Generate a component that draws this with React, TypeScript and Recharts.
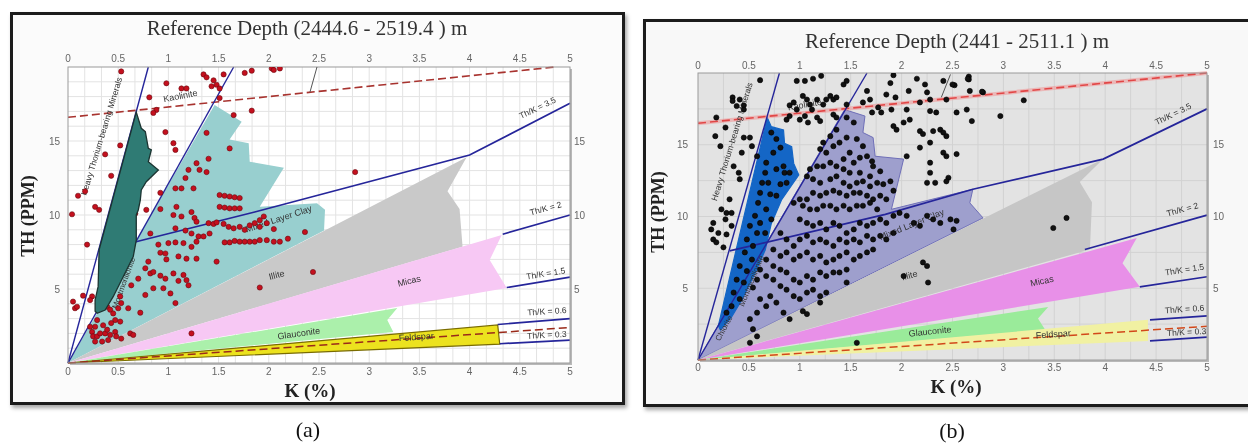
import React from 'react';
import { ScatterChart, Scatter, XAxis, YAxis, ReferenceArea } from 'recharts';

type P = [number, number];
const K_MAX = 5;
const TH_MAX = 20;
const kTicks = [0, 0.5, 1, 1.5, 2, 2.5, 3, 3.5, 4, 4.5, 5];
const thTicks = [5, 10, 15];

// ---------------- Panel (a) ----------------
const titleA = 'Reference Depth (2444.6 - 2519.4 ) m';
const heavyA: P[] = [[0.68,16.95],[0.73,15.86],[0.77,15.63],[0.8,14.5],[0.83,14.4],[0.8,13.6],[0.9,13.04],[0.78,12.25],[0.73,11.7],[0.72,11.0],[0.7,10.34],[0.68,10.0],[0.68,8.3],[0.65,7.2],[0.55,5.83],[0.45,4.48],[0.37,3.58],[0.29,3.36],[0.27,3.5],[0.27,4.26],[0.3,5.16],[0.31,7.64]];
const mixedA: P[] = [[0,0],[0.29,3.36],[0.37,3.58],[0.45,4.48],[0.55,5.83],[0.65,7.2],[0.68,8.3],[1.46,17.43],[1.73,16.3],[1.61,15.1],[1.8,14.85],[1.81,13.6],[2.15,13.2],[1.91,10.55],[2.48,10.8],[2.56,10.35],[2.55,8.95]];
const illiteA: P[] = [[0,0],[3.97,13.9],[3.78,11.6],[3.9,10.4],[3.93,7.86]];
const micasA: P[] = [[0,0],[4.32,8.65],[4.2,6.96],[4.37,5.07]];
const glaucA: P[] = [[0,0],[3.28,3.72],[3.18,2.9],[3.24,2.1]];
const feldA: P[] = [[0,0],[4.28,2.57],[4.3,1.28]];
const steepA: P[] = [[0,0],[0.8,20]];
const twelveA: P[] = [[0,0],[1.65,20]];
const thk35A: P[] = [[0.3,7.55],[1.86,10.2],[4.0,14.05],[5,17.55]];
const thk2A: P[] = [[4.33,8.7],[5,10.0]];
const thk15A: P[] = [[4.37,5.1],[5,5.8]];
const thk06A: P[] = [[4.28,2.6],[5,3.0]];
const thk03A: P[] = [[4.3,1.3],[5,1.55]];
const redTopA: P[] = [[0,16.6],[4.85,20]];
const redBotA: P[] = [[0,0],[5,2.4]];
const pointerA: P[] = [[2.48,20],[2.41,18.3]];
const wellA: P[] = [[0.53,19.7],[1.35,19.5],[1.38,19.3],[1.45,19.1],[1.55,19.5],[1.48,18.8],[1.51,18.55],[1.43,18.7],[1.76,19.6],[1.83,19.75],[2.03,19.9],[2.11,19.9],[2.05,19.8],[0.98,18.9],[1.13,18.55],[1.18,18.55],[0.81,17.95],[0.88,17.1],[0.85,16.9],[1.51,17.9],[1.65,16.75],[1.83,17.05],[0.97,15.6],[1.05,14.85],[1.07,14.4],[0.52,14.7],[0.37,14.1],[0.43,12.65],[0.6,12.8],[0.78,12.5],[0.92,11.5],[1.38,15.55],[1.61,14.5],[1.4,13.8],[1.28,13.5],[1.2,13.05],[1.31,13.05],[1.38,12.9],[1.17,12.5],[1.13,11.8],[1.07,11.8],[1.25,11.8],[0.1,11.3],[0.17,11.6],[0.27,10.55],[0.31,10.35],[0.04,10.05],[0.19,8.0],[0.45,10.55],[0.53,10.55],[0.5,9.8],[0.47,9.0],[0.53,9.1],[0.67,10.1],[0.65,9.45],[0.78,10.35],[0.92,10.4],[1.08,10.55],[1.05,10.0],[1.13,9.9],[1.23,10.2],[1.26,9.8],[1.28,9.55],[1.51,11.35],[1.56,11.3],[1.61,11.25],[1.66,11.2],[1.71,11.15],[1.51,10.55],[1.56,10.5],[1.61,10.45],[1.66,10.45],[1.71,10.45],[1.4,9.45],[1.45,9.4],[1.48,9.5],[1.55,9.4],[1.6,9.2],[1.65,9.1],[1.71,9.2],[1.76,9.0],[1.81,9.3],[1.86,9.45],[1.91,9.65],[1.95,9.9],[1.98,9.45],[1.91,9.2],[2.05,9.05],[2.36,8.85],[2.19,8.4],[2.11,8.2],[2.05,8.2],[1.98,8.3],[1.91,8.3],[1.86,8.2],[1.81,8.2],[1.76,8.2],[1.71,8.2],[1.66,8.25],[1.61,8.15],[1.56,8.15],[1.07,9.1],[1.17,8.95],[1.23,8.75],[1.3,8.55],[1.35,8.55],[1.41,8.75],[0.82,8.75],[0.9,8.0],[1.0,8.1],[1.07,8.15],[1.15,8.1],[1.23,7.85],[1.28,8.2],[0.92,7.45],[0.97,7.4],[0.98,7.0],[1.1,7.2],[1.18,7.05],[1.28,7.05],[1.48,6.85],[0.8,6.85],[0.77,6.4],[0.82,6.05],[0.85,6.15],[0.92,5.9],[0.97,5.7],[1.05,6.05],[1.15,5.95],[1.18,5.6],[1.2,5.25],[1.1,5.55],[0.95,5.05],[1.02,4.7],[0.85,5.05],[0.7,5.7],[0.63,5.25],[0.77,4.6],[0.52,4.5],[0.53,4.05],[0.6,3.7],[0.72,3.4],[1.07,4.05],[1.91,5.1],[2.44,6.15],[1.23,2.0],[0.05,4.15],[0.07,3.7],[0.15,4.55],[0.24,4.5],[0.22,4.25],[0.09,3.8],[0.39,3.8],[0.42,3.6],[0.45,3.35],[0.5,3.7],[0.47,2.9],[0.52,2.8],[0.43,2.7],[0.35,2.55],[0.29,2.9],[0.27,2.45],[0.24,2.1],[0.25,1.8],[0.29,1.8],[0.32,2.0],[0.37,2.0],[0.42,1.9],[0.47,2.1],[0.48,1.8],[0.53,1.65],[0.4,1.55],[0.62,2.0],[0.65,1.9],[0.34,1.45],[0.27,1.45],[0.39,2.25],[0.22,2.45],[0.45,6.15],[0.35,6.75],[0.43,7.4],[2.86,12.9]];

// ---------------- Panel (b) ----------------
const titleB = 'Reference Depth (2441 - 2511.1 ) m';
const heavyB: P[] = [[0.68,16.9],[0.72,16.26],[0.84,16.03],[0.85,15.1],[0.92,14.87],[0.94,13.7],[0.99,12.9],[0.82,11.15],[0.72,9.5],[0.66,7.67],[0.56,6.04],[0.43,4.18],[0.33,3.0],[0.22,2.1],[0.2,2.4]];
const mixedB: P[] = [[0,0],[1.44,17.45],[1.64,17.0],[1.62,15.85],[1.72,15.5],[1.74,14.2],[2.02,14.0],[1.9,10.5],[2.7,11.9],[2.67,10.95],[2.8,9.9]];
const illiteB: P[] = [[0,0],[3.98,14.0],[3.75,12.4],[3.87,11.0],[3.85,7.7]];
const micasB: P[] = [[0,0],[4.31,8.5],[4.17,6.75],[4.34,5.1]];
const glaucB: P[] = [[0,0],[3.44,3.7],[3.34,2.9],[3.41,2.1]];
const feldB: P[] = [[0,0],[4.42,2.8],[4.42,1.32]];
const steepB: P[] = [[0,0],[0.8,20]];
const twelveB: P[] = [[0,0],[1.66,20]];
const thk35B: P[] = [[0.31,7.6],[1.84,10.15],[2.7,11.9],[3.98,14.0],[5,17.5]];
const thk2B: P[] = [[3.8,7.7],[5,10.1]];
const thk15B: P[] = [[4.34,5.1],[5,5.8]];
const thk06B: P[] = [[4.44,2.8],[5,3.07]];
const thk03B: P[] = [[4.44,1.33],[5,1.6]];
const redTopB: P[] = [[0,16.5],[5,20]];
const redBotB: P[] = [[0,0],[5,2.35]];
const pointerB: P[] = [[2.48,19.9],[2.39,18.3]];
const wellB: P[] = [[0.61,19.5],[0.97,19.45],[1.05,19.45],[1.13,19.6],[1.21,19.8],[1.43,19.2],[1.46,19.45],[1.66,18.75],[1.89,19.3],[1.92,19.85],[2.07,18.75],[2.15,19.6],[2.23,19.2],[2.25,18.65],[2.28,18.15],[2.41,19.45],[2.52,19.15],[2.66,19.75],[2.66,19.55],[2.67,18.75],[2.8,18.65],[2.97,17.0],[0.34,18.3],[0.34,18.05],[0.41,18.15],[0.45,17.75],[0.45,17.45],[0.38,17.7],[0.9,17.75],[0.94,17.95],[0.97,17.45],[1.03,18.4],[1.07,18.15],[1.1,17.8],[1.12,17.45],[1.17,18.15],[1.23,17.8],[1.26,18.15],[1.3,18.4],[1.33,18.15],[1.36,18.3],[1.33,17.1],[1.46,17.8],[1.62,17.95],[1.69,18.15],[1.71,17.25],[1.77,17.6],[1.8,17.25],[1.85,18.5],[1.9,17.45],[1.94,18.3],[2.05,17.45],[2.08,16.75],[2.18,17.95],[2.28,17.35],[2.34,17.25],[2.44,18.15],[2.54,17.25],[2.64,17.45],[2.69,16.65],[0.18,16.9],[0.27,16.2],[0.87,16.75],[0.9,17.0],[1.0,16.75],[1.05,17.0],[1.08,16.55],[1.17,16.9],[1.2,16.65],[1.36,16.9],
[0.17,15.6],[0.22,14.9],[0.45,15.5],[0.51,15.5],[0.43,14.45],[0.4,13.05],[0.53,14.9],[0.58,14.2],[0.23,10.5],[0.28,10.25],[0.33,10.25],[0.27,9.8],[0.15,9.55],[0.13,9.1],[0.2,8.85],[0.15,8.4],[0.18,8.2],[0.25,7.85],[0.28,8.75],[0.33,9.35],[0.31,11.2],[0.41,12.6],[0.35,13.5],
[0.72,15.85],[0.77,15.4],[0.81,14.8],[0.74,14.45],[0.67,13.75],[0.66,13.05],[0.77,13.3],[0.84,13.5],[0.85,13.05],[0.9,13.05],[0.63,12.35],[0.69,12.35],[0.81,12.25],[0.87,12.35],[0.61,11.65],[0.71,11.55],[0.77,11.45],[0.59,10.95],[0.67,10.5],[0.56,10.05],[0.61,9.55],[0.72,9.8],[0.51,9.35],[0.58,8.85],[0.66,8.85],[0.48,8.4],[0.54,7.95],[0.46,7.5],[0.53,7.0],[0.41,6.55],[0.48,6.2],[0.38,5.6],[0.45,5.4],[0.35,4.7],[0.41,4.25],[0.33,3.75],[0.28,3.3],[0.58,5.6],[0.54,5.05],
[1.92,16.3],[2.02,16.55],[2.18,15.95],[2.21,15.75],[2.28,15.15],[2.31,15.95],[2.38,16.05],[2.41,15.85],[2.44,15.6],[2.18,14.8],[2.28,13.75],[2.41,14.45],[2.44,14.2],[2.54,14.35],[2.28,13.05],[2.46,12.7],[2.25,12.35],[2.33,12.35],[2.44,12.45],[1.95,16.05],[2.05,14.2],
[1.46,16.9],[1.53,16.55],[1.36,16.05],[1.3,15.6],[1.23,15.15],[1.2,14.7],[1.26,14.45],[1.33,14.9],[1.39,15.15],[1.46,15.5],[1.56,15.4],[1.62,14.9],[1.49,14.45],[1.43,14.0],[1.53,13.75],[1.59,14.1],[1.66,14.2],[1.71,13.85],[1.72,13.5],[1.79,13.15],[1.69,12.8],[1.59,13.05],[1.49,13.05],[1.43,13.3],[1.36,13.5],[1.3,13.75],[1.23,13.5],[1.17,13.5],[1.1,13.3],[1.07,12.8],[1.13,12.6],[1.2,12.35],[1.3,12.6],[1.36,12.8],[1.43,12.35],[1.49,12.1],[1.56,12.35],[1.62,12.45],[1.69,12.1],[1.76,12.35],[1.82,12.25],[1.89,12.45],[1.92,11.8],[1.85,11.2],[1.79,11.45],[1.72,11.2],[1.66,11.45],[1.59,11.65],[1.53,11.65],[1.46,11.45],[1.39,11.65],[1.33,11.8],[1.26,11.65],[1.2,11.45],[1.13,11.65],[1.07,11.2],[1.0,11.2],[0.94,10.95],[1.03,10.75],[1.1,10.5],[1.17,10.5],[1.23,10.75],[1.3,10.75],[1.36,10.5],[1.43,10.75],[1.49,10.5],[1.56,10.75],[1.62,10.75],[1.69,10.95],[1.76,10.5],
[1.0,9.8],[1.07,9.55],[1.13,9.35],[1.2,9.55],[1.26,9.1],[1.33,9.55],[1.39,9.35],[1.46,8.85],[1.53,9.1],[1.59,9.55],[1.66,9.35],[1.72,9.55],[1.79,9.8],[1.85,9.55],[1.92,10.05],[1.98,10.25],[2.05,10.05],[2.12,9.55],[2.18,9.35],[2.25,10.05],[2.31,9.8],[2.38,9.55],[2.48,9.8],[2.54,9.7],[2.51,9.1],[1.92,8.85],[1.85,8.4],[1.79,8.65],[1.72,8.4],[1.66,8.65],[1.59,8.2],[1.53,8.4],[1.46,8.2],[1.39,8.4],[1.33,7.95],[1.26,8.2],[1.2,8.4],[1.13,8.2],[1.07,8.65],[1.0,8.4],[0.94,7.95],[0.87,8.4],[0.81,8.85],[0.74,7.7],[0.81,7.25],[0.87,7.5],[0.94,7.0],[1.0,7.25],[1.07,7.5],[1.13,7.0],[1.2,7.25],[1.26,6.8],[1.33,7.0],[1.39,7.25],[1.46,7.5],[1.53,7.0],[1.59,7.25],[1.66,7.5],[1.72,7.7],[1.46,6.3],[1.39,6.1],[1.33,6.1],[1.26,5.85],[1.2,6.1],[1.13,5.6],[1.07,5.85],[1.0,5.4],[0.94,5.6],[0.87,6.1],[0.81,6.3],[0.74,6.55],[0.67,7.0],[0.74,5.6],[0.81,5.15],[0.87,4.9],[0.94,4.45],[1.0,4.25],[1.07,4.7],[1.13,4.9],[1.2,4.45],[1.26,4.7],[1.46,5.4],[0.67,5.85],[0.61,6.3],[0.71,4.45],[0.77,4.0],[0.67,3.75],[0.61,4.25],[0.58,3.3],[0.51,2.85],[0.54,2.15],[0.58,1.65],[0.51,1.2],[0.84,3.3],[0.9,2.85],[1.03,3.4],[1.07,3.2],[1.2,4.0],[1.56,1.2],[2.02,5.85],[2.21,6.8],[2.25,6.55],[2.26,5.4],
[3.2,18.1],[2.79,18.7],[3.62,9.9],[3.49,9.2],[2.65,19.6],[2.5,19.2]];

type Lbl = { t: string; k: number; th: number; a: number; s: number };
const labelsA: Lbl[] = [
  { t: 'Kaolinite', k: 1.12, th: 18.0, a: -11, s: 9 },
  { t: 'Heavy Thorium-bearing Minerals', k: 0.34, th: 15.3, a: -73, s: 8.5 },
  { t: 'Mixed Layer Clay', k: 2.1, th: 9.7, a: -18, s: 9 },
  { t: 'Illite', k: 2.08, th: 5.9, a: -15, s: 9 },
  { t: 'Micas', k: 3.4, th: 5.5, a: -14, s: 9 },
  { t: 'Glauconite', k: 2.3, th: 1.95, a: -8, s: 9 },
  { t: 'Feldspar', k: 3.47, th: 1.72, a: -4, s: 9 },
  { t: 'Montmorillonite', k: 0.56, th: 5.4, a: -70, s: 8 },
  { t: 'Th/K = 3.5', k: 4.68, th: 17.2, a: -26, s: 8.5 },
  { t: 'Th/K = 2', k: 4.76, th: 10.4, a: -15, s: 8.5 },
  { t: 'Th/K = 1.5', k: 4.76, th: 6.0, a: -9, s: 8.5 },
  { t: 'Th/K = 0.6', k: 4.77, th: 3.45, a: -4, s: 8.5 },
  { t: 'Th/K = 0.3', k: 4.77, th: 1.85, a: -3, s: 8.5 },
];
const labelsB: Lbl[] = [
  { t: 'Kaolinite', k: 1.05, th: 17.75, a: -10, s: 9 },
  { t: 'Heavy Thorium-bearing Minerals', k: 0.34, th: 15.2, a: -73, s: 8.5 },
  { t: 'Mixed Layer Clay', k: 2.1, th: 9.4, a: -22, s: 9 },
  { t: 'Illite', k: 2.08, th: 5.85, a: -15, s: 9 },
  { t: 'Micas', k: 3.38, th: 5.45, a: -12, s: 9 },
  { t: 'Glauconite', k: 2.28, th: 1.95, a: -6, s: 9 },
  { t: 'Feldspar', k: 3.49, th: 1.75, a: -4, s: 9 },
  { t: 'Montmorillonite', k: 0.53, th: 5.5, a: -68, s: 8 },
  { t: 'Chlorite', k: 0.26, th: 2.2, a: -62, s: 8 },
  { t: 'Th/K = 3.5', k: 4.67, th: 17.1, a: -26, s: 8.5 },
  { t: 'Th/K = 2', k: 4.76, th: 10.45, a: -15, s: 8.5 },
  { t: 'Th/K = 1.5', k: 4.78, th: 6.25, a: -9, s: 8.5 },
  { t: 'Th/K = 0.6', k: 4.78, th: 3.5, a: -4, s: 8.5 },
  { t: 'Th/K = 0.3', k: 4.8, th: 1.9, a: -3, s: 8.5 },
];

type Mapper = (k: number, th: number) => [number, number];
const pathOf = (m: Mapper, pts: P[], close = false) =>
  pts.map((p, i) => (i ? 'L' : 'M') + m(p[0], p[1]).map((v) => v.toFixed(2)).join(',')).join(' ') + (close ? ' Z' : '');
const pathPx = (pts: { x: number; y: number }[], close = false) =>
  (pts || []).map((p, i) => (i ? 'L' : 'M') + p.x.toFixed(2) + ',' + p.y.toFixed(2)).join(' ') + (close ? ' Z' : '');
const toRows = (pts: P[]) => pts.map(([k, th]) => ({ k, th }));

function layer(key: string, render: (m: Mapper) => React.ReactNode) {
  return (
    <ReferenceArea
      key={key}
      xAxisId="b"
      yAxisId="l"
      x1={0}
      x2={K_MAX}
      y1={0}
      y2={TH_MAX}
      ifOverflow="visible"
      shape={(p: any) => {
        const m: Mapper = (k, th) => [p.x + (k / K_MAX) * p.width, p.y + p.height - (th / TH_MAX) * p.height];
        return <g>{render(m)}</g>;
      }}
    />
  );
}

const SANS = '"Liberation Sans", Arial, sans-serif';
const SERIF = '"Liberation Serif", "Times New Roman", serif';

type Cfg = {
  bg: string; gridK: number[]; gridTh: number[]; gridColor: string;
  heavy: P[]; mixed: P[]; illite: P[]; micas: P[]; glauc: P[]; feld: P[];
  colors: { heavy: string; heavyStroke: string; mixed: string; mixedStroke: string; illite: string; micas: string; glauc: string; feld: string; feldStroke: string; redTop: string; redTopGlow: string; redBot: string; dot: string; dotStroke: string; };
  steep: P[]; twelve: P[]; thk35: P[]; thk2: P[]; thk15: P[]; thk06: P[]; thk03: P[]; redTop: P[]; redBot: P[]; pointer: P[];
  well: P[]; labels: Lbl[]; heavyOnTop: boolean;
};

const noShape = () => <g />;

function renderChart(c: Cfg, width: number, height: number, margin: any, tm: { l: number; r: number; t: number; b: number }) {
  const rows = toRows(c.well);
  const tick = { fontSize: 10, fill: '#666', fontFamily: SANS };
  const navy = '#25259a';
  const lines = (m: Mapper) => (
    <g fill="none">
      {c.colors.redTopGlow !== 'none' && <path d={pathOf(m, c.redTop)} stroke={c.colors.redTopGlow} strokeWidth={4} />}
      <path d={pathOf(m, c.redTop)} stroke={c.colors.redTop} strokeWidth={1.6} strokeDasharray="8 4" />
      <path d={pathOf(m, c.steep)} stroke={navy} strokeWidth={1.4} />
      <path d={pathOf(m, c.twelve)} stroke={navy} strokeWidth={1.4} />
      <path d={pathOf(m, c.thk35)} stroke={navy} strokeWidth={1.7} />
      <path d={pathOf(m, c.thk2)} stroke={navy} strokeWidth={1.7} />
      <path d={pathOf(m, c.thk15)} stroke={navy} strokeWidth={1.7} />
      <path d={pathOf(m, c.thk06)} stroke={navy} strokeWidth={1.7} />
      <path d={pathOf(m, c.thk03)} stroke={navy} strokeWidth={1.7} />
      <path d={pathOf(m, c.redBot)} stroke={c.colors.redBot} strokeWidth={1.5} strokeDasharray="8 4" />
    </g>
  );
  return (
    <ScatterChart width={width} height={height} margin={margin}>
      <XAxis xAxisId="b" type="number" dataKey="k" domain={[0, K_MAX]} ticks={kTicks} interval={0} orientation="bottom" height={20}
        tickLine={false} tickSize={0} axisLine={false} tick={tick} tickMargin={tm.b} allowDataOverflow />
      <XAxis xAxisId="t" type="number" dataKey="k" domain={[0, K_MAX]} ticks={kTicks} interval={0} orientation="top" height={20}
        tickLine={false} tickSize={0} axisLine={false} tick={tick} tickMargin={tm.t} allowDataOverflow />
      <YAxis yAxisId="l" type="number" dataKey="th" domain={[0, TH_MAX]} ticks={thTicks} interval={0} width={30}
        tickLine={false} tickSize={0} axisLine={false} tick={tick} tickMargin={tm.l} allowDataOverflow />
      <YAxis yAxisId="r" type="number" dataKey="th" orientation="right" domain={[0, TH_MAX]} ticks={thTicks} interval={0} width={30}
        tickLine={false} tickSize={0} axisLine={false} tick={tick} tickMargin={tm.r} allowDataOverflow />
      {layer('bg', (m) => {
        const [x0, y0] = m(0, TH_MAX);
        const [x1, y1] = m(K_MAX, 0);
        return (
          <g>
            <rect x={x0 + 2} y={y0 + 2} width={x1 - x0} height={y1 - y0} fill="#b8b8b8" />
            <rect x={x0} y={y0} width={x1 - x0} height={y1 - y0} fill={c.bg} />
            {c.gridK.map((k) => {
              const [x] = m(k, 0);
              return <line key={'gk' + k} x1={x} x2={x} y1={y0} y2={y1} stroke={c.gridColor} strokeWidth={1} />;
            })}
            {c.gridTh.map((th) => {
              const [, y] = m(0, th);
              return <line key={'gt' + th} x1={x0} x2={x1} y1={y} y2={y} stroke={c.gridColor} strokeWidth={1} />;
            })}
          </g>
        );
      })}
      {layer('polys', (m) => (
        <g>
          <path d={pathOf(m, c.mixed, true)} fill={c.colors.mixed} stroke={c.colors.mixedStroke} strokeWidth={1} />
          <path d={pathOf(m, c.illite, true)} fill={c.colors.illite} stroke="none" />
          <path d={pathOf(m, c.micas, true)} fill={c.colors.micas} stroke="none" />
          <path d={pathOf(m, c.glauc, true)} fill={c.colors.glauc} stroke="none" />
          <path d={pathOf(m, c.feld, true)} fill={c.colors.feld} stroke={c.colors.feldStroke} strokeWidth={1.2} />
          {!c.heavyOnTop && (
            <path d={pathOf(m, c.heavy, true)} fill={c.colors.heavy} stroke={c.colors.heavyStroke} strokeWidth={1.2} />
          )}
          {lines(m)}
          {c.labels.map((l, i) => {
            const [x, y] = m(l.k, l.th);
            return (
              <text key={i} x={x} y={y} transform={`rotate(${l.a} ${x} ${y})`} textAnchor="middle" dominantBaseline="middle"
                fontSize={l.s} fontFamily={SANS} fill="#333">{l.t}</text>
            );
          })}
          {(() => {
            const [x0, y0] = m(0, TH_MAX);
            const [x1, y1] = m(K_MAX, 0);
            return <rect x={x0} y={y0} width={x1 - x0} height={y1 - y0} fill="none" stroke="#9a9a9a" strokeWidth={1} />;
          })()}
        </g>
      ))}
      <Scatter xAxisId="t" yAxisId="r" data={toRows(c.pointer)} isAnimationActive={false} shape={noShape}
        lineType="joint" line={(lp: any) => <path d={pathPx(lp.points)} fill="none" stroke="#555" strokeWidth={1} />} />
      <Scatter xAxisId="b" yAxisId="l" data={rows} isAnimationActive={false}
        shape={(p: any) => <circle cx={p.cx} cy={p.cy} r={2.6} fill={c.colors.dot} stroke={c.colors.dotStroke} strokeWidth={0.6} />} />
      {c.heavyOnTop && (
        <Scatter xAxisId="t" yAxisId="r" data={toRows(c.heavy)} isAnimationActive={false} shape={noShape}
          lineType="joint"
          line={(lp: any) => (
            <path d={pathPx(lp.points, true)} fill={c.colors.heavy} stroke={c.colors.heavyStroke} strokeWidth={1.3}
              style={{ mixBlendMode: 'multiply' }} />
          )} />
      )}
    </ScatterChart>
  );
}

const gridKA: number[] = [];
for (let i = 1; i < 30; i++) gridKA.push(i / 6);
const gridThA: number[] = [];
for (let i = 1; i < 20; i++) gridThA.push(i);
const gridKB: number[] = [];
for (let i = 1; i < 20; i++) gridKB.push(i * 0.25);
const gridThB: number[] = [2.5, 5, 7.5, 10, 12.5, 15, 17.5];

const cfgA: Cfg = {
  bg: '#ffffff', gridK: gridKA, gridTh: gridThA, gridColor: '#e3e3e3',
  heavy: heavyA, mixed: mixedA, illite: illiteA, micas: micasA, glauc: glaucA, feld: feldA,
  colors: { heavy: '#2f7b74', heavyStroke: '#1b3431', mixed: '#98cfcf', mixedStroke: 'none', illite: '#c9c9c9', micas: '#f7c8f4', glauc: '#abf0ab', feld: '#ece21e', feldStroke: '#7a6c00', redTop: '#a8332f', redTopGlow: 'none', redBot: '#9a2a1a', dot: '#c4101e', dotStroke: '#6a0a10' },
  steep: steepA, twelve: twelveA, thk35: thk35A, thk2: thk2A, thk15: thk15A, thk06: thk06A, thk03: thk03A, redTop: redTopA, redBot: redBotA, pointer: pointerA,
  well: wellA, labels: labelsA, heavyOnTop: true,
};
const cfgB: Cfg = {
  bg: '#e3e3e3', gridK: gridKB, gridTh: gridThB, gridColor: '#d2d2d2',
  heavy: heavyB, mixed: mixedB, illite: illiteB, micas: micasB, glauc: glaucB, feld: feldB,
  colors: { heavy: '#1466c6', heavyStroke: '#1466c6', mixed: '#9e9fcd', mixedStroke: '#6f6fb8', illite: '#c6c6c6', micas: '#e890e8', glauc: '#9aeb9a', feld: '#f1f1a2', feldStroke: 'none', redTop: '#e24646', redTopGlow: 'rgba(240,150,150,0.55)', redBot: '#d2481a', dot: '#111111', dotStroke: '#000000' },
  steep: steepB, twelve: twelveB, thk35: thk35B, thk2: thk2B, thk15: thk15B, thk06: thk06B, thk03: thk03B, redTop: redTopB, redBot: redBotB, pointer: pointerB,
  well: wellB, labels: labelsB, heavyOnTop: false,
};

export default function App() {
  return (
    <div style={{ position: 'absolute', left: 0, top: 0, width: 1248, height: 445, overflow: 'hidden', background: '#ffffff' }}>
      <div style={{ position: 'absolute', left: 10, top: 12, width: 615, height: 393, boxSizing: 'border-box', border: '3px solid #1c1c1c', background: '#fbfbfb', boxShadow: '2px 3px 4px rgba(0,0,0,0.35)' }} />
      <div style={{ position: 'absolute', left: 643, top: 19, width: 612, height: 388, boxSizing: 'border-box', border: '3px solid #1c1c1c', background: '#f8f8f8', boxShadow: '2px 3px 4px rgba(0,0,0,0.35)' }} />
      <div style={{ position: 'absolute', left: 0, top: 0 }}>
        {renderChart(cfgA, 625, 445, { left: 38, right: 25, top: 47, bottom: 62 }, { l: 8, r: 4, t: 5, b: 5 })}
      </div>
      <div style={{ position: 'absolute', left: 630, top: 0 }}>
        {renderChart(cfgB, 618, 445, { left: 38, right: 11, top: 53, bottom: 65 }, { l: 10, r: 6, t: 4, b: 4 })}
      </div>
      <svg width={1248} height={445} style={{ position: 'absolute', left: 0, top: 0, pointerEvents: 'none' }}>
        <text x={307} y={30} textAnchor="middle" dominantBaseline="middle" fontFamily={SERIF} fontSize={21} fill="#333">{titleA}</text>
        <text x={957} y={43} textAnchor="middle" dominantBaseline="middle" fontFamily={SERIF} fontSize={21} fill="#333">{titleB}</text>
        <text x={30} y={216} transform="rotate(-90 30 216)" textAnchor="middle" dominantBaseline="middle" fontFamily={SERIF} fontWeight="bold" fontSize={18} fill="#222">TH (PPM)</text>
        <text x={660} y={212} transform="rotate(-90 660 212)" textAnchor="middle" dominantBaseline="middle" fontFamily={SERIF} fontWeight="bold" fontSize={18} fill="#222">TH (PPM)</text>
        <text x={310} y={393} textAnchor="middle" dominantBaseline="middle" fontFamily={SERIF} fontWeight="bold" fontSize={19} fill="#222">K (%)</text>
        <text x={956} y={389} textAnchor="middle" dominantBaseline="middle" fontFamily={SERIF} fontWeight="bold" fontSize={19} fill="#222">K (%)</text>
        <text x={308} y={432} textAnchor="middle" dominantBaseline="middle" fontFamily={SERIF} fontSize={22} fill="#111">(a)</text>
        <text x={952} y={433} textAnchor="middle" dominantBaseline="middle" fontFamily={SERIF} fontSize={22} fill="#111">(b)</text>
      </svg>
    </div>
  );
}
